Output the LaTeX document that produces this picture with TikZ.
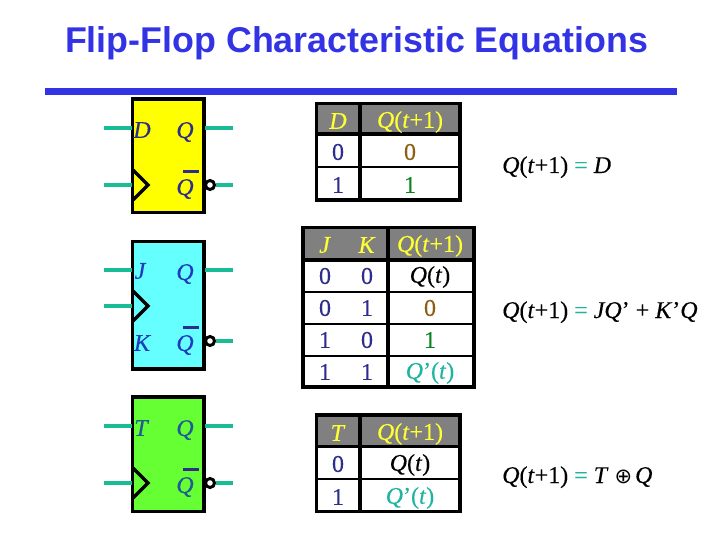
\documentclass[tikz,border=0pt]{standalone}
\usepackage{fontspec}
\setmainfont[FakeBold=0.25]{Liberation Serif}
\setsansfont{Liberation Sans}
\definecolor{ttl}{RGB}{51,51,230}
\definecolor{lead}{RGB}{26,188,150}
\definecolor{sym}{RGB}{45,45,140}
\definecolor{symj}{RGB}{30,60,190}
\definecolor{symt}{RGB}{30,90,150}
\definecolor{hdr}{RGB}{128,128,128}
\definecolor{hdrtxt}{RGB}{255,255,51}
\definecolor{brn}{RGB}{140,95,20}
\definecolor{grn}{RGB}{10,130,30}
\definecolor{teal}{RGB}{30,180,160}
\definecolor{ffy}{RGB}{255,255,0}
\definecolor{ffc}{RGB}{102,255,255}
\definecolor{ffg}{RGB}{102,255,51}
\newcommand{\tf}{\fontsize{24}{24}\selectfont}
\newcommand{\Qt}{\textit{Q}(\textit{t}+1)}
\tikzset{
 ffbox/.style={draw=black,line width=3.5pt},
 wire/.style={draw=lead,line width=3.6pt},
 clk/.style={draw=black,line width=3.5pt,line join=miter},
 bub/.style={circle,draw=black,line width=3pt,fill=white,minimum size=9pt,inner sep=0pt},
 pin/.style={inner sep=0pt,font=\tf\itshape},
 bar/.style={draw=sym,line width=3pt},
 tline/.style={draw=black,line width=2.2pt},
 tthick/.style={draw=black,line width=3.2pt},
 hd/.style={inner sep=0pt,font=\tf,text=hdrtxt},
 val/.style={inner sep=0pt,font=\tf,text=sym},
 eqn/.style={inner sep=0pt,anchor=base west,font=\tf},
}
\newcommand{\ff}[8]{% name, fill, top, bottom, upper y, clock y, lower y, text colour
 \path[ffbox,fill=#2] (132.7,#3) rectangle (204,#4);
 \coordinate (#1i) at (104,#5); \coordinate (#1ie) at (132,#5);
 \coordinate (#1o) at (233,#5); \coordinate (#1oe) at (205,#5);
 \coordinate (#1c) at (104,#6); \coordinate (#1ce) at (132,#6);
 \coordinate (#1n) at (233,#7); \coordinate (#1t) at (148,#6);
 \path[wire] (#1i) -- (#1ie);
 \path[wire] (#1oe) -- (#1o);
 \path[wire] (#1c) -- (#1ce);
 \path[clk] (133,#6-15) -- (#1t) -- (133,#6+15);
 \node[bub] (#1b) at (210,#7) {};
 \path[wire] (#1b) -- (#1n);
 \node[pin,text=#8] (#1q) at (185,#5+4) {Q};
 \node[pin,text=#8] (#1nq) at (185,#7+4) {Q};
 \coordinate (#1ba) at (183,#7-13.5); \coordinate (#1bb) at (199,#7-13.5);
 \path[bar] (#1ba) -- (#1bb);
}
\begin{document}
\begin{tikzpicture}[x=1pt,y=-1pt]
\useasboundingbox (0,0) rectangle (720,540);
\node[inner sep=0pt,anchor=base,text=ttl,font=\sffamily\bfseries\fontsize{35.8}{35.8}\selectfont] (title) at (356.5,53) {Flip-Flop Characteristic Equations};
\path[fill=ttl] (45,88) rectangle (677,95);
% flip-flops
\ff{d}{ffy}{99}{212.7}{128}{185}{185}{sym}
\node[pin,text=sym] (dd) at (142,130) {D};
\ff{j}{ffc}{241.7}{369}{270}{306}{341}{symj}
\node[pin,text=symj] (jj) at (140,271) {J};
\node[pin,text=symj] (kk) at (142,343) {K};
\ff{t}{ffg}{397}{511.7}{426}{483}{483}{symt}
\node[pin,text=symt] (tt) at (141,428) {T};
% D table
\path[fill=hdr] (317,104) rectangle (460,134);
\draw[tthick] (316.7,103.3) rectangle (460,200);
\draw[tthick] (316.7,134) -- (460,134);
\draw[tline] (316.7,166.7) -- (460,166.7);
\draw[tthick] (360,103.3) -- (360,200);
\node[hd] (a1) at (338,121) {\textit{D}};
\node[hd] (a2) at (410,122) {\Qt};
\node[val] (a3) at (338,152) {0};
\node[val,text=brn] (a4) at (410,152) {0};
\node[val] (a5) at (338,185) {1};
\node[val,text=grn] (a6) at (410,185) {1};
% JK table
\path[fill=hdr] (303,228) rectangle (474,260);
\draw[tthick] (303,227.7) rectangle (474,387);
\draw[tthick] (303,260) -- (474,260);
\draw[tline] (303,292) -- (474,292);
\draw[tline] (303,324) -- (474,324);
\draw[tline] (303,355.7) -- (474,355.7);
\draw[tthick] (388,227.7) -- (388,387);
\node[hd] (b1) at (325,245) {\textit{J}};
\node[hd] (b2) at (367,245) {\textit{K}};
\node[hd] (b3) at (430,246) {\Qt};
\node[val] (b4) at (325,276) {0};
\node[val] (b5) at (367,276) {0};
\node[val,text=black] (b6) at (430,277) {\textit{Q}(\textit{t})};
\node[val] (b7) at (325,308) {0};
\node[val] (b8) at (367,308) {1};
\node[val,text=brn] (b9) at (430,308) {0};
\node[val] (b10) at (325,340) {1};
\node[val] (b11) at (367,340) {0};
\node[val,text=grn] (b12) at (430,340) {1};
\node[val] (b13) at (325,372) {1};
\node[val] (b14) at (367,372) {1};
\node[val,text=teal] (b15) at (430,373) {\textit{Q}’(\textit{t})};
% T table
\path[fill=hdr] (317,416) rectangle (460,447);
\draw[tthick] (316.7,415) rectangle (460,511.7);
\draw[tthick] (316.7,446.7) -- (460,446.7);
\draw[tline] (316.7,479) -- (460,479);
\draw[tthick] (360,415) -- (360,511.7);
\node[hd] (c1) at (338,433) {\textit{T}};
\node[hd] (c2) at (410,434) {\Qt};
\node[val] (c3) at (338,464) {0};
\node[val,text=black] (c4) at (410,465) {\textit{Q}(\textit{t})};
\node[val] (c5) at (338,497) {1};
\node[val,text=teal] (c6) at (410,498) {\textit{Q}’(\textit{t})};
% equations
\node[eqn] (e1) at (502,173) {\Qt{} \textcolor{teal}{=} \textit{D}};
\node[eqn] (e2) at (502,318) {\Qt{} \textcolor{teal}{=} \textit{JQ}’ + \textit{K}’\textit{Q}};
\node[eqn] (e3) at (502,483) {\Qt{} \textcolor{teal}{=} \textit{T} {\fontspec{DejaVu Sans}\fontsize{21}{21}\selectfont ⊕}\hspace{3pt}\textit{Q}};
\end{tikzpicture}
\end{document}
